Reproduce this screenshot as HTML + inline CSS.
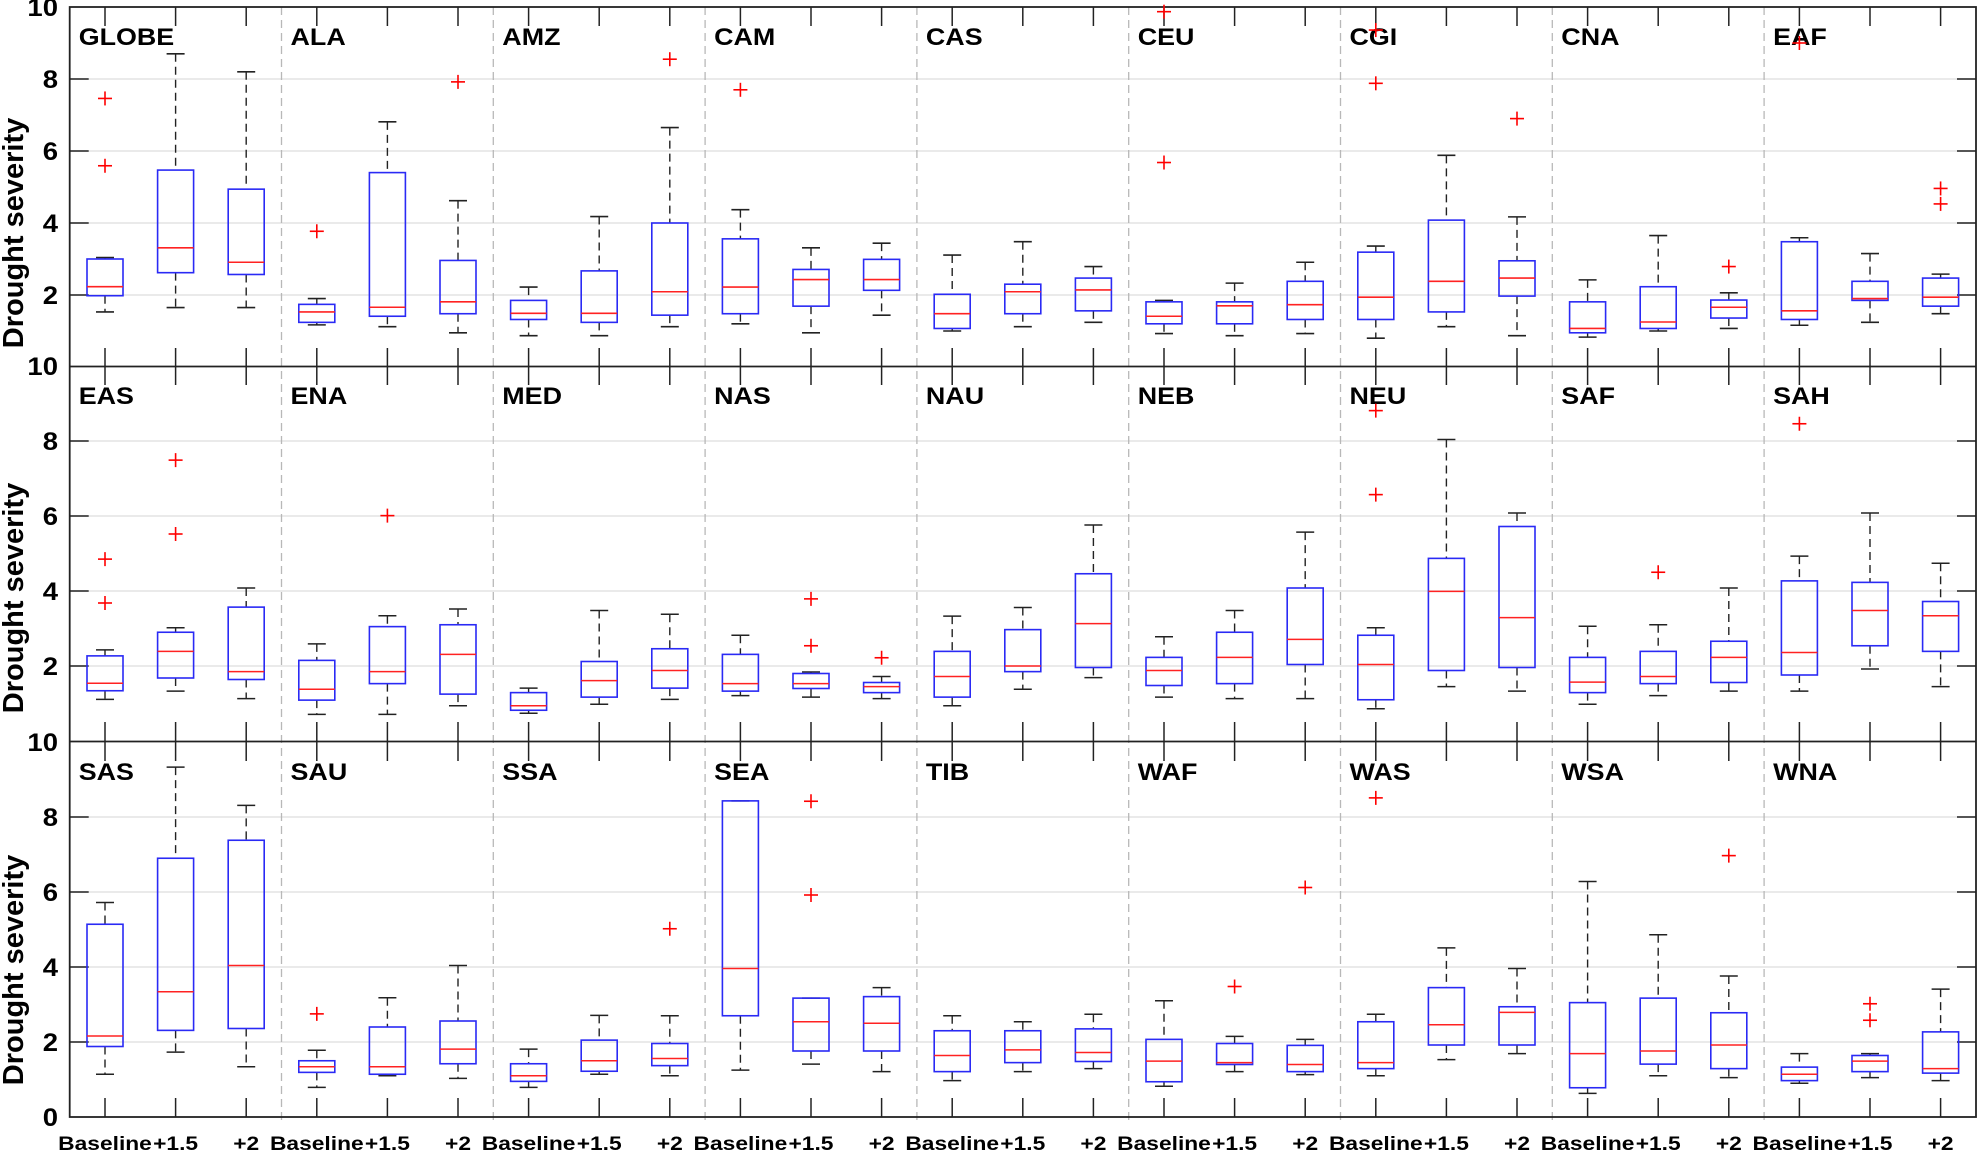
<!DOCTYPE html>
<html><head><meta charset="utf-8"><style>
html,body{margin:0;padding:0;background:#fff;}
svg{display:block;}
text{font-family:"Liberation Sans",Arial,sans-serif;font-weight:bold;fill:#000;}
</style></head><body>
<svg id="chart" width="1977" height="1159" viewBox="0 0 1977 1159" xmlns="http://www.w3.org/2000/svg"></svg>
<script>
const regions = ["GLOBE","ALA","AMZ","CAM","CAS","CEU","CGI","CNA","EAF","EAS","ENA","MED","NAS","NAU","NEB","NEU","SAF","SAH","SAS","SAU","SSA","SEA","TIB","WAF","WAS","WSA","WNA"];
const scenarios = ["Baseline","+1.5","+2"];
const yTicks = [0,2,4,6,8,10];
// per box (region x scenario), order: Baseline, +1.5, +2
const whiskerLow = [1.53,1.65,1.65, 1.17,1.12,0.95, 0.87,0.87,1.12, 1.2,0.95,1.44, 1.0,1.12,1.24, 0.93,0.87,0.93, 0.8,1.12,0.87, 0.83,1.0,1.07, 1.16,1.24,1.48,
 1.11,1.33,1.13, 0.71,0.71,0.94, 0.74,0.98,1.11, 1.21,1.17,1.13, 0.94,1.38,1.69, 1.17,1.13,1.13, 0.86,1.45,1.33, 0.98,1.21,1.33, 1.33,1.92,1.45,
 1.14,1.73,1.34, 0.79,1.1,1.03, 0.79,1.14,1.10, 1.25,1.41,1.21, 0.97,1.21,1.29, 0.82,1.21,1.13, 1.10,1.53,1.69, 0.63,1.10,1.05, 0.90,1.05,0.97];
const q1 = [1.98,2.62,2.57, 1.24,1.41,1.48, 1.32,1.24,1.44, 1.48,1.69,2.13, 1.07,1.48,1.56, 1.2,1.2,1.32, 1.32,1.53,1.97, 0.95,1.07,1.36, 1.32,1.85,1.69,
 1.34,1.68,1.64, 1.09,1.53,1.25, 0.82,1.17,1.41, 1.33,1.40,1.29, 1.17,1.85,1.96, 1.48,1.53,2.04, 1.10,1.88,1.96, 1.29,1.53,1.56, 1.76,2.54,2.39,
 1.88,2.31,2.36, 1.19,1.14,1.42, 0.95,1.22,1.37, 2.70,1.76,1.76, 1.21,1.45,1.48, 0.94,1.40,1.21, 1.29,1.92,1.92, 0.78,1.41,1.29, 0.97,1.21,1.17];
const median = [2.23,3.31,2.91, 1.53,1.66,1.81, 1.49,1.49,2.09, 2.22,2.43,2.43, 1.48,2.09,2.14, 1.41,1.70,1.73, 1.94,2.38,2.47, 1.07,1.25,1.66, 1.56,1.90,1.94,
 1.54,2.39,1.85, 1.38,1.85,2.31, 0.94,1.61,1.88, 1.53,1.53,1.45, 1.72,2.0,3.13, 1.88,2.23,2.71, 2.04,3.99,3.29, 1.57,1.72,2.23, 2.36,3.48,3.34,
 2.16,3.34,4.04, 1.34,1.34,1.81, 1.1,1.5,1.56, 3.96,2.54,2.5, 1.64,1.79,1.72, 1.49,1.45,1.40, 1.45,2.46,2.79, 1.69,1.76,1.92, 1.14,1.49,1.29];
const q3 = [3.0,5.47,4.94, 1.74,5.4,2.96, 1.85,2.67,4.0, 3.56,2.71,2.99, 2.02,2.30,2.47, 1.81,1.81,2.38, 3.19,4.08,2.95, 1.81,2.23,1.86, 3.48,2.38,2.47,
 2.27,2.90,3.57, 2.15,3.05,3.1, 1.29,2.12,2.46, 2.31,1.80,1.56, 2.39,2.97,4.46, 2.23,2.90,4.08, 2.82,4.87,5.72, 2.23,2.39,2.66, 4.27,4.23,3.72,
 5.14,6.9,7.38, 1.5,2.4,2.56, 1.42,2.05,1.96, 8.43,3.17,3.21, 2.30,2.30,2.35, 2.07,1.96,1.91, 2.54,3.45,2.94, 3.05,3.17,2.78, 1.33,1.64,2.27];
const whiskerHigh = [3.04,8.70,8.2, 1.9,6.81,4.62, 2.22,4.18,6.65, 4.37,3.31,3.44, 3.11,3.48,2.79, 1.85,2.33,2.91, 3.36,5.88,4.17, 2.42,3.65,2.06, 3.59,3.15,2.58,
 2.43,3.02,4.08, 2.59,3.34,3.52, 1.41,3.48,3.38, 2.82,1.84,1.72, 3.33,3.56,5.76, 2.78,3.48,5.57, 3.02,8.04,6.08, 3.06,3.1,4.08, 4.93,6.08,4.74,
 5.72,9.33,8.31, 1.78,3.18,4.04, 1.81,2.71,2.70, 8.43,3.17,3.45, 2.70,2.54,2.74, 3.10,2.15,2.07, 2.74,4.51,3.96, 6.28,4.86,3.76, 1.69,1.69,3.41];
const outliers = [[7.46,5.59],[],[], [3.77],[],[7.92], [],[],[8.55], [7.7],[],[], [],[],[], [9.87,5.68],[],[], [9.36,7.88],[],[6.9], [],[],[2.79], [9.0],[],[4.96,4.53],
 [4.85,3.68],[7.49,5.52],[], [],[6.01],[], [],[],[], [],[3.79,2.54],[2.22], [],[],[], [],[],[], [8.81,6.57],[],[], [],[4.5],[], [8.46],[],[],
 [],[],[], [2.75],[],[], [],[],[5.02], [],[8.42,5.92],[], [],[],[], [],[3.48],[6.12], [8.51],[],[], [],[],[6.97], [],[3.02,2.58],[]];

const NS = "http://www.w3.org/2000/svg";
const svg = document.getElementById("chart");
const X0 = 69.7, STEP = 70.6, XR = 1976;
const panelTop = [7, 366, 742];
const panelZero = [367, 741, 1117];
function xScale(p){ return X0 + (p - 0.5) * STEP; }
function yScale(row, v){ return panelZero[row] - (panelZero[row] - panelTop[row]) * v / 10; }
function mk(tag, attrs, parent){
  const e = document.createElementNS(NS, tag);
  for (const k in attrs) e.setAttribute(k, attrs[k]);
  (parent || svg).appendChild(e);
  return e;
}
function txt(str, x, y, size, anchor, sx, parent){
  const t = mk("text", {transform:`translate(${x},${y}) scale(${sx},1)`, "font-size":size, "text-anchor":anchor}, parent);
  t.textContent = str;
  return t;
}

for (let r = 0; r < 3; r++) {
  const g = mk("g", {});
  
  
  yTicks.forEach(v => {
    const y = yScale(r, v);
    if (v > 0 && v < 10) {
      const gl = mk("line", {x1:X0, x2:XR, y1:y, y2:y, stroke:"#e3e3e3", "stroke-width":1.5}, g);
      
      
      mk("line", {x1:X0, x2:X0+19, y1:y, y2:y, stroke:"#222", "stroke-width":1.5}, g);
      mk("line", {x1:XR-19, x2:XR, y1:y, y2:y, stroke:"#222", "stroke-width":1.5}, g);
    }
    if (v === 0 && r < 2) return;
    const lab = txt(String(v), 58, y + 9, 25, "end", 1.1, g);
    
    
  });
  const yl = mk("text", {transform:`translate(23,${(r===0?233:(r===1?598:970))}) rotate(-90)`, "font-size":29, "text-anchor":"middle"}, g);
  yl.textContent = "Drought severity";
  
  
  for (let p = 1; p <= 27; p++) {
    const x = xScale(p);
    mk("line", {x1:x, x2:x, y1:panelZero[r], y2:panelZero[r]-19, stroke:"#222", "stroke-width":1.5}, g);
    mk("line", {x1:x, x2:x, y1:panelTop[r], y2:panelTop[r]+19, stroke:"#222", "stroke-width":1.5}, g);
  }
}
for (let c = 1; c < 9; c++) {
  const x = xScale(c*3 + 0.5);
  const s = mk("line", {x1:x, x2:x, y1:7, y2:1121, stroke:"#b8b8b8", "stroke-width":1.3, "stroke-dasharray":"8,5"});
  
  
}
mk("rect", {x:X0, y:7, width:XR-X0, height:1117-7, fill:"none", stroke:"#222", "stroke-width":1.8});
mk("line", {x1:X0, x2:XR, y1:366.5, y2:366.5, stroke:"#222", "stroke-width":1.8});
mk("line", {x1:X0, x2:XR, y1:741.5, y2:741.5, stroke:"#222", "stroke-width":1.8});

regions.forEach((reg, i) => {
  const r = Math.floor(i / 9), c = i % 9;
  const rg = mk("g", {});
  
  
  const lab = txt(reg, X0 + c*3*STEP + 9, panelTop[r] + 38, 24, "start", 1.12, rg);
  
  
  for (let k = 0; k < 3; k++) {
    const idx = i*3 + k;
    const x = xScale(c*3 + k + 1);
    const y = v => yScale(r, v);
    const b = mk("g", {}, rg);
    
    
    mk("line", {x1:x, x2:x, y1:y(whiskerHigh[idx]), y2:y(q3[idx]), stroke:"#222", "stroke-width":1.4, "stroke-dasharray":"8,5"}, b);
    mk("line", {x1:x, x2:x, y1:y(q1[idx]), y2:y(whiskerLow[idx]), stroke:"#222", "stroke-width":1.4, "stroke-dasharray":"8,5"}, b);
    mk("line", {x1:x-9, x2:x+9, y1:y(whiskerHigh[idx]), y2:y(whiskerHigh[idx]), stroke:"#222", "stroke-width":1.6}, b);
    mk("line", {x1:x-9, x2:x+9, y1:y(whiskerLow[idx]), y2:y(whiskerLow[idx]), stroke:"#222", "stroke-width":1.6}, b);
    mk("rect", {x:x-18, y:y(q3[idx]), width:36, height:Math.max(1, y(q1[idx]) - y(q3[idx])), fill:"none", stroke:"#2a2af5", "stroke-width":1.6}, b);
    mk("line", {x1:x-18, x2:x+18, y1:y(median[idx]), y2:y(median[idx]), stroke:"#f22", "stroke-width":1.6}, b);
    outliers[idx].forEach(o => {
      const oy = y(o);
      const pg = mk("g", {}, b);
      
      
      mk("line", {x1:x-7, x2:x+7, y1:oy, y2:oy, stroke:"#f00", "stroke-width":1.6}, pg);
      mk("line", {x1:x, x2:x, y1:oy-7, y2:oy+7, stroke:"#f00", "stroke-width":1.6}, pg);
    });
    if (r === 2) {
      const xl = txt(scenarios[k], x, 1150, 19, "middle", 1.2, b);
      
      
    }
  }
});
</script>
</body></html>
